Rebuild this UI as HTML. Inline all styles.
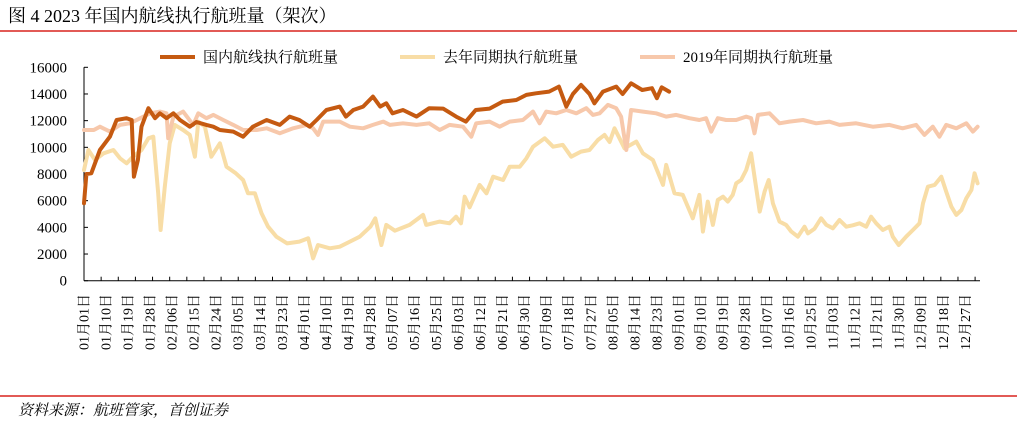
<!DOCTYPE html>
<html><head><meta charset="utf-8"><style>
body{margin:0;background:#fff;}
#wrap{position:relative;width:1017px;height:424px;overflow:hidden;font-family:"Liberation Serif","Noto Serif CJK SC",serif;}
</style></head><body>
<div id="wrap">
<svg id="svg" width="1017" height="424" xmlns="http://www.w3.org/2000/svg">
<text x="8" y="22" font-size="18" font-family="Liberation Serif, Noto Serif CJK SC, serif" fill="#000">图  4 2023 年国内航线执行航班量（架次）</text>
<line x1="0" y1="31" x2="1017" y2="31" stroke="#d9231e" stroke-width="1.5"/>
<line x1="0" y1="396" x2="1017" y2="396" stroke="#d9231e" stroke-width="1.5"/>
<text x="18" y="415" font-size="15" font-style="italic" font-family="Noto Serif CJK SC, serif" fill="#000">资料来源：航班管家，首创证券</text>
<g id="legend">
<g><line x1="160" y1="57" x2="195" y2="57" stroke="#C55A11" stroke-width="4"/><text x="203" y="62" font-size="15" font-family="Liberation Serif, Noto Serif CJK SC, serif">国内航线执行航班量</text></g>
<g><line x1="400" y1="57" x2="435" y2="57" stroke="#F8DDA6" stroke-width="4"/><text x="443" y="62" font-size="15" font-family="Liberation Serif, Noto Serif CJK SC, serif">去年同期执行航班量</text></g>
<g><line x1="640" y1="57" x2="675" y2="57" stroke="#F7C8AB" stroke-width="4"/><text x="683" y="62" font-size="15" font-family="Liberation Serif, Noto Serif CJK SC, serif">2019年同期执行航班量</text></g>
</g>
<g id="plot"></g>
</svg>
</div>
<script>
const yTicks=[0,2000,4000,6000,8000,10000,12000,14000,16000];
const labelMonths=["01","01","01","01","02","02","02","03","03","03","04","04","04","04","05","05","05","06","06","06","06","07","07","07","08","08","08","09","09","09","09","10","10","10","11","11","11","11","12","12","12"];
const labelDays=["01","10","19","28","06","15","24","05","14","23","01","10","19","28","07","16","25","03","12","21","30","09","18","27","05","14","23","01","10","19","28","07","16","25","03","12","21","30","09","18","27"];
const days2023=[0,1,3,6.5,10.6,13.3,17.4,19.5,20.4,22,23.5,26.3,29,31,33.7,36.5,39.2,43.2,45.9,50,52.8,55.5,61,65,69,74.6,80,84,88,92.2,95,99,104.5,107,110,114,118,121,123.5,126,130.3,135.8,141,146.7,152,156,160,165.7,171,176.6,180.7,184.6,190,194,197,199.7,203,206.5,208.5,212,217.4,220,223.5,228,232,234,236,239];
const vals2023=[5800,8000,8050,9800,10800,12050,12180,12050,7800,9050,11550,12930,12180,12550,12180,12550,12050,11550,11900,11680,11550,11300,11180,10800,11550,12050,11680,12300,12050,11550,12050,12800,13050,12300,12800,13050,13800,13050,13300,12550,12800,12300,12930,12900,12300,11930,12800,12900,13430,13550,13930,14050,14180,14550,13050,14000,14680,14000,13300,14180,14550,14000,14800,14300,14430,13680,14500,14180];
const daysLast=[0,1.8,4.5,8,12,14.7,17.4,20,23.5,26.3,28.3,30.3,31.3,33,35,37.1,40.5,43.2,45.3,46.7,49.4,52,55.5,58.2,62,65,67,69.8,72.5,75.2,78.6,83,88,91.6,93.6,95.6,100.4,104.5,108.6,112.6,117,119,121.5,123.5,127,133,138.5,139.8,145.3,149.3,152,154,155.5,157.5,161.6,164.4,167.1,171.2,173.9,178,180.7,183.4,188.2,191.6,195.6,199,203,206.5,209.9,212.6,214.7,216.7,220.8,225.6,228.3,232.4,236.5,237.8,241.2,244.6,248.7,251.4,252.8,254.8,256.9,258.9,261,263,265,266.4,268.4,270.5,272.5,273.9,276,278,279.7,281.4,284.1,286.8,288.9,291.6,294.3,295.7,298.4,301.1,303.2,305.9,308.6,311.4,314,316.8,319.5,321.5,323.6,326.3,329,330.4,332.8,335.8,338.6,341.3,342.7,344.7,347.5,350.2,352.2,354.3,356.3,358.4,360.4,362.5,363.8,365];
const valsLast=[8300,9800,9050,9550,9800,9180,8800,9300,9800,10680,10800,6550,3800,7050,10300,11680,11300,10930,9300,11930,11550,9300,10300,8550,8050,7550,6550,6550,5050,4050,3300,2800,2930,3180,1680,2680,2430,2550,2930,3300,4050,4680,2680,4180,3750,4180,4930,4180,4430,4300,4800,4300,6300,5500,7180,6550,7800,7550,8550,8550,9180,10050,10680,10050,10180,9300,9680,9800,10550,10930,10400,11430,9930,10430,9550,9050,7180,8680,6550,6430,4680,6430,3680,5930,4180,6050,6300,5930,6430,7300,7550,8300,9550,7800,5180,6680,7550,5800,4430,4180,3680,3300,4050,3550,3900,4680,4180,3930,4550,4050,4150,4300,4050,4800,4300,3800,4050,3300,2680,3300,3800,4300,5800,7050,7180,7800,6680,5550,4930,5300,6180,6800,8050,7300];
const days2019=[0,4,6.5,10.6,14.7,18.8,23,27,31,33.7,34.4,36.5,40.5,44.6,46.7,50,52.8,56.9,61,65,70.5,74.6,80,85.4,91,93.6,95.6,97.7,104.5,108.6,114,118,122.2,125,130.3,135.8,141,145.3,149.3,154.8,158.2,160.2,165.7,169.8,173.9,179.3,183.4,186.1,188.8,192.9,197,201.1,205.2,207.9,210.6,214,217.4,219.4,221.5,223.5,228.3,233.7,237.8,241.9,247.3,251.4,254.1,256.2,258.9,262.3,266.4,270.5,272.5,273.9,275.3,280,284.1,288.2,293.7,299.1,304.5,308.6,315.4,322.2,329,334.4,339.9,343.3,346.7,349.4,352.2,356.3,360.4,363.1,365];
const vals2019=[11300,11300,11550,11180,11680,11800,12180,12550,12680,12550,10680,12300,12680,11680,12550,12180,12430,12050,11680,11300,11300,11430,11050,11430,11680,11430,10930,11930,11930,11550,11430,11680,11930,11680,11800,11680,11800,11300,11680,11550,10800,11800,11930,11550,11930,12050,12680,11800,12680,12550,12800,12550,12930,12430,12550,13180,12930,12300,9800,12800,12680,12550,12300,12430,12180,12050,12180,11180,12180,12050,12050,12300,12180,11050,12430,12550,11800,11930,12050,11800,11930,11680,11800,11550,11680,11430,11680,10930,11550,10800,11680,11430,11800,11180,11550];

const X0=84, X1=980, Y0=280.7, YT=67.3;
const xs=d=>X0+d*(X1-X0)/366;
const ys=v=>Y0-(v/16000)*(Y0-YT);
const NS="http://www.w3.org/2000/svg";
const plot=document.getElementById('plot');
function mk(tag,attrs){const e=document.createElementNS(NS,tag);for(const k in attrs)e.setAttribute(k,attrs[k]);return e;}

const yAxis=mk('line',{x1:X0,y1:YT,x2:X0,y2:Y0,stroke:'#000','stroke-width':1});


plot.appendChild(yAxis);
const xAxis=mk('line',{x1:X0,y1:Y0,x2:X1,y2:Y0,stroke:'#000','stroke-width':1});


plot.appendChild(xAxis);
yTicks.forEach(v=>{
  const t=mk('line',{x1:X0,y1:ys(v),x2:X0+4,y2:ys(v),stroke:'#000','stroke-width':1});
  
  
  plot.appendChild(t);
  const l=mk('text',{x:X0-17,y:ys(v)+5,'text-anchor':'end','font-size':15,'font-family':'Liberation Serif, serif'});
  l.textContent=v;
  
  
  plot.appendChild(l);
});
for(let d=7;d<=364;d+=7){
  const t=mk('line',{x1:xs(d),y1:Y0,x2:xs(d),y2:Y0-4,stroke:'#000','stroke-width':1});
  
  
  plot.appendChild(t);
}
labelDays.forEach((dd,i)=>{
  const x=xs(i*9)+1, y=294;
  const l=mk('text',{x:x,y:y,transform:`rotate(-90 ${x} ${y})`,'text-anchor':'end','font-size':14,'font-family':'Liberation Serif, Noto Serif CJK SC, serif','dominant-baseline':'central'});
  l.textContent=labelMonths[i]+'月'+dd+'日';
  
  
  plot.appendChild(l);
});
function series(days,vals,color,w,name){
  const d=days.map((x,i)=>(i?'L':'M')+xs(x).toFixed(1)+','+ys(vals[i]).toFixed(1)).join('');
  const p=mk('path',{d:d,fill:'none',stroke:color,'stroke-width':w,'stroke-linejoin':'round','stroke-linecap':'round'});
  
  
  plot.appendChild(p);
}
series(daysLast,valsLast,'#F8DDA6',4,'series-last-year-line');
series(days2019,vals2019,'#F7C8AB',4,'series-2019-line');
series(days2023,vals2023,'#C55A11',4,'series-2023-line');
</script>
</body></html>
